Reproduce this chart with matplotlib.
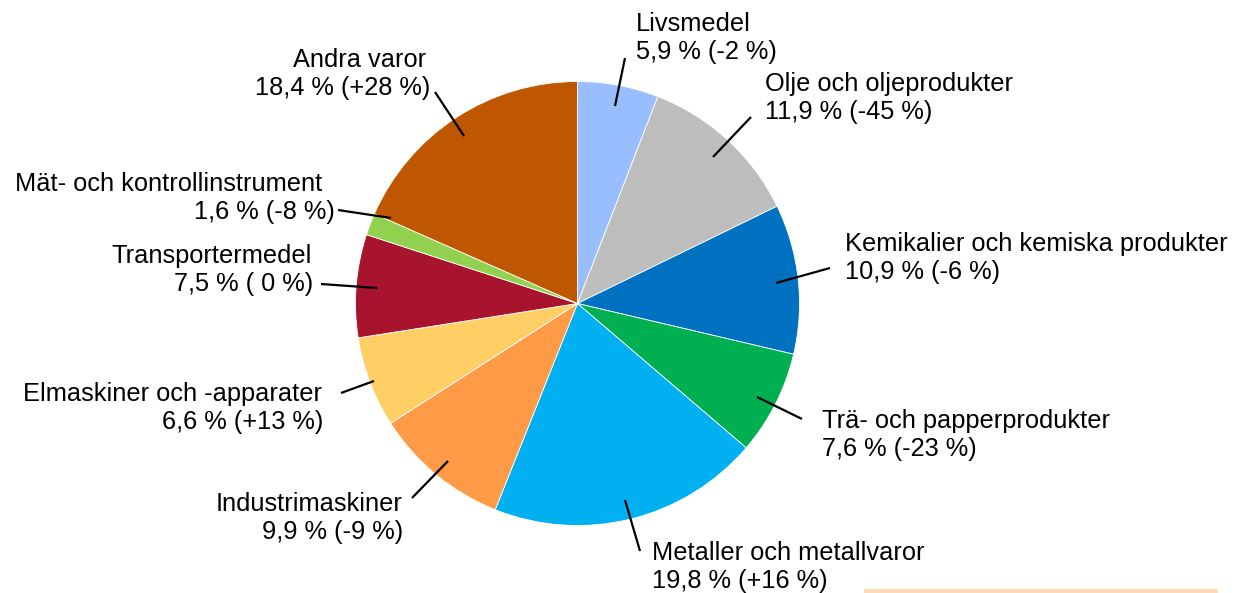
import matplotlib.pyplot as plt

plt.rcParams['font.family'] = ['Liberation Sans', 'DejaVu Sans']

# andelar i procent, medurs från kl 12
kategorier = ['Livsmedel', 'Olje och oljeprodukter', 'Kemikalier och kemiska produkter',
              'Trä- och papperprodukter', 'Metaller och metallvaror', 'Industrimaskiner',
              'Elmaskiner och -apparater', 'Transportermedel', 'Mät- och kontrollinstrument',
              'Andra varor']
andel = [5.9, 11.9, 10.9, 7.6, 19.8, 9.9, 6.6, 7.5, 1.6, 18.4]
forandring = ['-2 %', '-45 %', '-6 %', '-23 %', '+16 %', '-9 %', '+13 %', ' 0 %', '-8 %', '+28 %']
farger = ['#99BEFF', '#BCBDBC', '#0070C0', '#00B050', '#00B0F0', '#FF9A47',
          '#FFCF66', '#A8132D', '#92D050', '#BF5700']

W, H = 1243, 593
fig = plt.figure(figsize=(W / 100, H / 100), dpi=100)
ax = fig.add_axes([0, 0, 1, 1])

cx, cy, r = 577.5, 303.5, 222
ax.pie(andel, colors=farger, startangle=-90, counterclock=True, center=(cx, cy), radius=r,
       wedgeprops=dict(linewidth=0.6, edgecolor='white'), frame=True)
ax.set_xlim(0, W)
ax.set_ylim(H, 0)   # pixelkoordinater, y nedåt -> pajen går medurs
ax.set_aspect('equal')
ax.axis('off')

# (x rad 1, x rad 2, överkant, justering, linje i pajen, linje vid text)
placering = [
    (636, 636, 12, 'left', (615, 106), (625, 58)),
    (765, 765, 72, 'left', (713, 157), (751, 117)),
    (845, 845, 232, 'left', (776, 283), (830, 268)),
    (822, 822, 409, 'left', (757, 397), (802, 419)),
    (652, 652, 541, 'left', (625, 500), (640, 551)),
    (403, 403, 492, 'right', (448, 461), (412, 498)),
    (322, 323, 382, 'right', (374, 381), (341, 393)),
    (312, 313, 244, 'right', (377, 288), (321, 284)),
    (322, 335, 172, 'right', (391, 218), (338, 210)),
    (426, 430, 48, 'right', (464, 136), (435, 92)),
]

for namn, a, f, (x1, x2, ty, ha, p1, p2) in zip(kategorier, andel, forandring, placering):
    rad2 = f"{a:.1f} % ({f})".replace('.', ',')
    ax.text(x1, ty, namn, ha=ha, va='top', fontsize=18.3, color='black')
    ax.text(x2, ty + 28, rad2, ha=ha, va='top', fontsize=18.3, color='black')
    ax.plot([p1[0], p2[0]], [p1[1], p2[1]], color='black', lw=1.6, solid_capstyle='butt')

ax.plot([864, 1218], [590.5, 590.5], color='#FDDBB9', lw=3, solid_capstyle='butt')

fig.savefig('out.png', dpi=100)
